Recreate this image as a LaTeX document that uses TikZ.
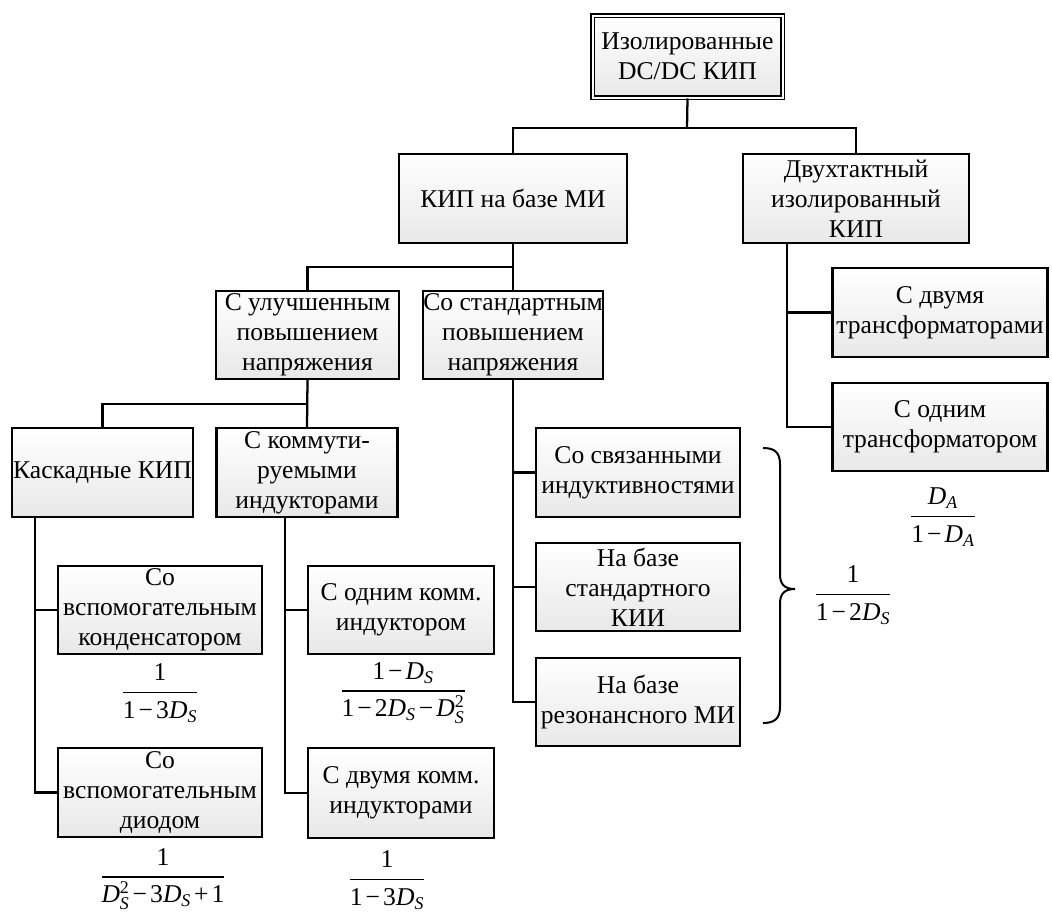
\documentclass[tikz,border=0pt]{standalone}
\usepackage{fontspec}
\usepackage{amsmath}
\setmainfont{Liberation Serif}
\usetikzlibrary{shadows}
\newcommand{\Ds}{\textit{D}_{\textit{S}}}
\newcommand{\Dsq}{\textit{D}_{\textit{S}}^{\text{2}}}
\newcommand{\Da}{\textit{D}_{\textit{A}}}
\newcommand{\mn}{\mathbin{\text{−}}}
\newcommand{\pl}{\mathbin{\text{+}}}
\newcommand{\n}[1]{\text{#1}}
\begin{document}
\begin{tikzpicture}[x=0.75pt,y=-0.75pt,
  bx/.style 2 args={draw, line width=1.6pt, top color=white, bottom color=black!9,
    align=center, inner sep=0pt, minimum width=#1*0.75pt, minimum height=#2*0.75pt,
    drop shadow={shadow xshift=1.1pt, shadow yshift=-1.1pt, fill=black!60, opacity=1},
    font=\fontsize{19.2}{22.5}\selectfont},
  dbx/.style 2 args={bx={#1}{#2}, double, double distance=1.5pt, line width=1.2pt},
  ln/.style={line width=1.7pt},
  fr/.style={inner sep=0pt, font=\fontsize{19.2}{22.5}\selectfont}]
\useasboundingbox (0,0) rectangle (1052,915);
% boxes
\node[dbx={190}{82}] (top) at (687.5,56.5) {Изолированные\\DC/DC КИП};
\node[bx={228}{89}] (kip) at (513,198.5) {КИП на базе МИ};
\node[bx={226}{89}] (dvuh) at (856,198.5) {Двухтактный\\изолированный\\КИП};
\node[bx={183}{88}] (ulu) at (307.5,335) {С улучшенным\\повышением\\напряжения};
\node[bx={180}{88}] (std) at (513,335) {Со стандартным\\повышением\\напряжения};
\node[bx={181}{89}] (kask) at (102.5,472.5) {Каскадные КИП};
\node[bx={181}{89}] (komm) at (307,472.5) {С коммути-\\руемыми\\индукторами};
\node[bx={204}{88}] (kond) at (160,610) {Со\\вспомогательным\\конденсатором};
\node[bx={204}{89}] (diod) at (160,792.5) {Со\\вспомогательным\\диодом};
\node[bx={186}{88}] (odin) at (401,610) {С одним комм.\\индуктором};
\node[bx={186}{90}] (dvumya) at (401,793) {С двумя комм.\\индукторами};
\node[bx={204}{89}] (svyaz) at (638,472.5) {Со связанными\\индуктивностями};
\node[bx={204}{88}] (stdkii) at (638,587) {На базе\\стандартного\\КИИ};
\node[bx={204}{88}] (rez) at (638,702) {На базе\\резонансного МИ};
\node[bx={215}{89}] (dvtr) at (940,312.5) {С двумя\\трансформаторами};
\node[bx={215}{88}] (odtr) at (940,427) {С одним\\трансформатором};
% formulas
\begin{scope}[every node/.append style={execute at begin node={\medmuskip=2mu}}]
\node[fr] (f1) at (160,693) {$\displaystyle\frac{\n{1}}{\n{1}\mn\n{3}\Ds}$};
\node[fr] (f2) at (403,693) {$\displaystyle\frac{\n{1}\mn\Ds}{\n{1}\mn\n{2}\Ds\mn\Dsq}$};
\node[fr] (f3) at (163,879) {$\displaystyle\frac{\n{1}}{\Dsq\mn\n{3}\Ds\pl\n{1}}$};
\node[fr] (f4) at (387,880) {$\displaystyle\frac{\n{1}}{\n{1}\mn\n{3}\Ds}$};
\node[fr] (f5) at (853,595) {$\displaystyle\frac{\n{1}}{\n{1}\mn\n{2}\Ds}$};
\node[fr] (f6) at (943,517) {$\displaystyle\frac{\Da}{\n{1}\mn\Da}$};
\end{scope}
% brace
\draw[line width=1.5pt] (763,448) .. controls (774,448) and (780,452) .. (780,464)
  -- (780,574) .. controls (780,584) and (784,589) .. (795,589)
  .. controls (784,589) and (780,594) .. (780,604)
  -- (780,707) .. controls (780,719) and (774,723) .. (763,723);
% connectors
\coordinate (j1) at (687,128);
\draw[ln] (top.south) -- (j1);
\draw[ln] (kip.north) |- (j1) -| (dvuh.north);
\coordinate (j2) at (513,267);
\draw[ln] (kip.south) -- (j2);
\draw[ln] (ulu.north) |- (j2) -- (std.north);
\coordinate (j3) at (307,404);
\draw[ln] (ulu.south) -- (komm.north);
\draw[ln] (kask.north) |- (j3);
\coordinate (b1) at (35,518);
\draw[ln] (b1) |- (kond.west);
\draw[ln] (b1) |- (diod.west);
\coordinate (b2) at (285,518);
\draw[ln] (b2) |- (odin.west);
\draw[ln] (b2) |- (dvumya.west);
\draw[ln] (std.south) |- (svyaz.west);
\draw[ln] (std.south) |- (stdkii.west);
\draw[ln] (std.south) |- (rez.west);
\coordinate (b3) at (787,244);
\draw[ln] (b3) |- (dvtr.west);
\draw[ln] (b3) |- (odtr.west);
\end{tikzpicture}
\end{document}
